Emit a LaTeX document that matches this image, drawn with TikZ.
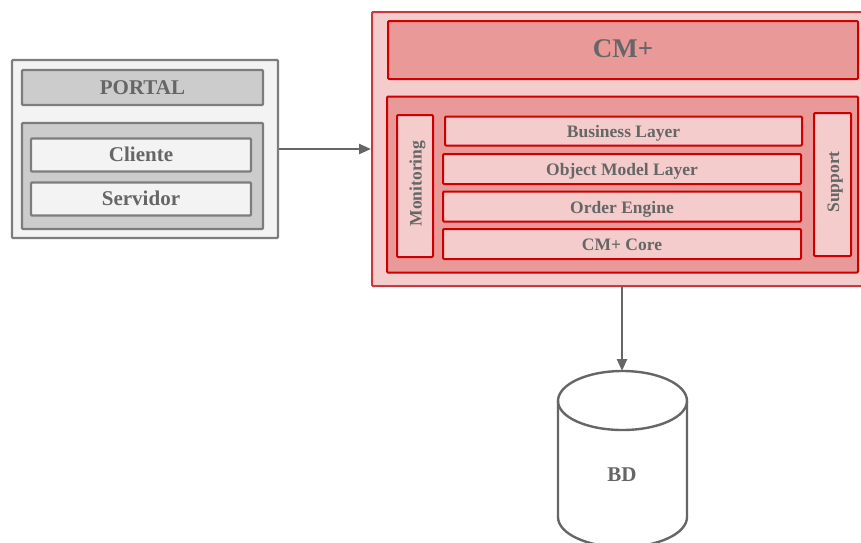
\documentclass[tikz,border=0pt]{standalone}
\usepackage{fontspec}
\setmainfont{Liberation Serif}
\usetikzlibrary{arrows.meta}
\definecolor{gline}{HTML}{666666}
\definecolor{gmid}{HTML}{CCCCCC}
\definecolor{glight}{HTML}{F3F3F3}
\definecolor{rline}{HTML}{CC0000}
\definecolor{rmid}{HTML}{EA9999}
\definecolor{rlight}{HTML}{F4CCCC}
\definecolor{rborder}{HTML}{C8393F}
\tikzset{
  x=1pt,y=-1pt,
  box/.style={rectangle,rounded corners=1pt,anchor=center,inner sep=0pt,text=gline,text height=13pt,text depth=0pt},
  gbox/.style={box,draw=gline!85!white,line width=2.2pt},
  rbox/.style={box,draw=rline,line width=2pt},
  conn/.style={draw=gline,line width=2.4pt,-{Triangle[length=12pt,width=10pt]}},
  pick/.style={fill=#1},
  sized/.style 2 args={minimum width=#1 pt,minimum height=#2 pt},
  fbig/.style={font=\bfseries\fontsize{21}{24}\selectfont},
  fhuge/.style={font=\bfseries\fontsize{27}{32}\selectfont,text height=14pt},
  fsmall/.style={font=\bfseries\fontsize{17.5}{20}\selectfont}
}
\begin{document}
\begin{tikzpicture}
\path[use as bounding box,clip] (0,0) rectangle (861,542);
\fill[white] (0,0) rectangle (861,542);
% portal
\node[gbox,pick=glight,sized={266}{178}] (portal) at (145,149) {};
\node[gbox,pick=gmid,sized={241}{35},fbig] (portaltitle) at (142.5,87.5) {PORTAL};
\node[gbox,pick=gmid,sized={241}{106}] (portalinner) at (142.5,176) {};
\node[gbox,pick=glight,sized={220}{33},fbig] (cliente) at (141,155) {Cliente};
\node[gbox,pick=glight,sized={220}{33},fbig] (servidor) at (141,199) {Servidor};
% CM+
\node[box,draw=rborder,line width=2pt,pick=rlight,sized={500}{274}] (cm) at (622,149) {};
\node[rbox,pick=rmid,sized={470}{58},fhuge] (cmtitle) at (623,50) {CM+};
\node[rbox,pick=rmid,sized={471}{176}] (cminner) at (622.5,184.5) {};
\node[rbox,pick=rlight,sized={142}{36},fsmall,rotate=90] (mon) at (415,186) {\hspace*{5pt}Monitoring};
\node[rbox,pick=rlight,sized={143}{37},fsmall,rotate=90] (sup) at (832.5,184.5) {\hspace*{5pt}Support};
\node[rbox,pick=rlight,sized={357}{29},fsmall] (biz) at (623.5,131) {Business Layer};
\node[rbox,pick=rlight,sized={358}{30},fsmall] (obj) at (622,169) {Object Model Layer};
\node[rbox,pick=rlight,sized={358}{30},fsmall] (ord) at (622,206.5) {Order Engine};
\node[rbox,pick=rlight,sized={358}{30},fsmall] (core) at (622,244) {CM+ Core};
% BD
\coordinate (bdtop) at (622,371);
\draw[gline,line width=2.4pt,fill=white] (558,401) arc[start angle=180,end angle=0,x radius=64.5,y radius=-30]
  -- (687,517) arc[start angle=0,end angle=180,x radius=64.5,y radius=30] -- cycle;
\draw[gline,line width=2.4pt] (558,401) arc[start angle=180,end angle=360,x radius=64.5,y radius=-29];
\node[box,fbig] (bd) at (622,475) {BD};
% connectors
\draw[conn] (portal.east) -- (cm.west);
\draw[conn] (cm.south) -- (bdtop);
\end{tikzpicture}
\end{document}
